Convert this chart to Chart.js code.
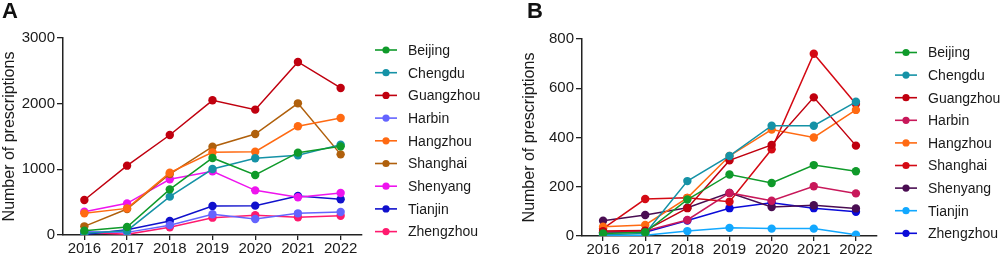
<!DOCTYPE html>
<html>
<head>
<meta charset="utf-8">
<script src="https://cdn.jsdelivr.net/npm/chart.js@4/dist/chart.umd.min.js"></script>
<style>
    html, body { margin: 0; padding: 0; background: #fff; }
    body { width: 1003px; height: 257px; position: relative; overflow: hidden; font-family: "Liberation Sans", Arial, sans-serif; }
    .painel { position: absolute; top: 0; height: 257px; }
    .letra { position: absolute; top: -2px; font-weight: bold; font-size: 22px; color: #111; }
</style>
</head>
<body>
<div class="painel" style="left:0;width:500px"><canvas id="graficoA" width="500" height="257"></canvas></div>
<div class="painel" style="left:500px;width:503px"><canvas id="graficoB" width="503" height="257"></canvas></div>
<div class="letra" style="left:2px">A</div>
<div class="letra" style="left:527px">B</div>
<script>
const anos = ['2016', '2017', '2018', '2019', '2020', '2021', '2022'];
const cidades = ['Beijing', 'Chengdu', 'Guangzhou', 'Harbin', 'Hangzhou', 'Shanghai', 'Shenyang', 'Tianjin', 'Zhengzhou'];

// Painel A
const coresA = ['#0f9a2a', '#1592a6', '#c0000f', '#6464ff', '#ff6a12', '#b0600c', '#ee14ee', '#1010cc', '#ff1a6e'];
const beijingA   = [66, 122, 695, 1173, 914, 1254, 1350];
const chengduA   = [25, 66, 584, 1005, 1168, 1213, 1376];
const guangzhouA = [533, 1056, 1523, 2051, 1909, 2635, 2239];
const harbinA    = [50, 40, 150, 315, 244, 330, 350];
const hangzhouA  = [330, 405, 949, 1259, 1269, 1655, 1782];
const shanghaiA  = [132, 396, 929, 1345, 1538, 2005, 1228];
const shenyangA  = [355, 482, 848, 970, 680, 574, 640];
const tianjinA   = [8, 81, 213, 442, 447, 594, 543];
const zhengzhouA = [40, 10, 117, 264, 300, 269, 294];
const ticksA = [0, 1000, 2000, 3000];

// Painel B
const coresB = ['#0f9a2a', '#1592a6', '#c0000f', '#c8185a', '#ff6a12', '#d40a14', '#4a0d52', '#12a8ff', '#0a0ad8'];
const beijingB   = [10, 15, 148, 250, 215, 288, 263];
const chengduB   = [5, 10, 223, 325, 448, 448, 545];
const guangzhouB = [20, 22, 113, 307, 370, 563, 367];
const harbinB    = [15, 20, 65, 175, 143, 202, 173];
const hangzhouB  = [38, 45, 155, 325, 432, 400, 512];
const shanghaiB  = [30, 150, 155, 139, 352, 740, 536];
const shenyangB  = [62, 85, 115, 175, 118, 125, 112];
const tianjinB   = [2, 3, 20, 33, 30, 30, 5];
const zhengzhouB = [15, 15, 63, 113, 135, 113, 98];
const ticksB = [0, 200, 400, 600, 800];

const fonte = '"Liberation Sans", Arial, sans-serif';
const corTexto = '#1a1a1a';

// Legenda desenhada à mão (linha com ponto no meio)
const legendaCidades = {
    id: 'legendaCidades',
    afterDraw(chart, args, opts) {
        const ctx = chart.ctx;
        const area = chart.chartArea;
        const x0 = area.right + opts.deslocX;
        ctx.save();
        chart.data.datasets.forEach((ds, i) => {
            const y = opts.topo + i * opts.passo;
            ctx.strokeStyle = ds.borderColor;
            ctx.lineWidth = 1.6;
            ctx.beginPath();
            ctx.moveTo(x0, y);
            ctx.lineTo(x0 + 22, y);
            ctx.stroke();
            ctx.fillStyle = ds.borderColor;
            ctx.beginPath();
            ctx.arc(x0 + 11, y, 3.6, 0, Math.PI * 2);
            ctx.fill();
            ctx.fillStyle = corTexto;
            ctx.font = '14px ' + fonte;
            ctx.textBaseline = 'middle';
            ctx.textAlign = 'left';
            ctx.fillText(ds.label, x0 + 33, y + 1);
        });
        ctx.restore();
    }
};

function montarDatasets(series, cores) {
    return series.map((valores, i) => ({
        label: cidades[i],
        data: valores,
        borderColor: cores[i],
        backgroundColor: cores[i],
        borderWidth: 1.5,
        pointRadius: 4.2,
        pointHoverRadius: 4.2,
        pointBorderWidth: 0,
        tension: 0
    }));
}

function criarGrafico(idCanvas, series, cores, ticks, maximo, p) {
    const ctx = document.getElementById(idCanvas).getContext('2d');
    return new Chart(ctx, {
        type: 'line',
        data: { labels: anos, datasets: montarDatasets(series, cores) },
        options: {
            responsive: false,
            animation: false,
            events: [],
            layout: { padding: { left: p.esquerda, right: p.direita, top: p.topo, bottom: 0 } },
            plugins: {
                legend: { display: false },
                tooltip: { enabled: false },
                legendaCidades: { deslocX: p.legX, topo: p.legTopo, passo: p.legPasso }
            },
            scales: {
                x: {
                    offset: true,
                    grid: { drawOnChartArea: false, drawTicks: true, tickLength: 5, color: '#222', lineWidth: 1.3 },
                    border: { display: true, color: '#222', width: 1.5 },
                    ticks: { color: corTexto, font: { family: fonte, size: 15 }, padding: 0, maxRotation: 0 },
                    afterFit: (scale) => { scale.height = 257 - p.fundo; }
                },
                y: {
                    min: 0,
                    max: maximo,
                    afterBuildTicks: (scale) => { scale.ticks = ticks.map(v => ({ value: v })); },
                    grid: { drawOnChartArea: false, drawTicks: true, tickLength: 6, color: '#222', lineWidth: 1.3 },
                    border: { display: true, color: '#222', width: 1.5 },
                    ticks: {
                        color: corTexto,
                        font: { family: fonte, size: 15 },
                        padding: 2,
                        callback: (valor) => String(valor)
                    },
                    title: {
                        display: true,
                        text: 'Number of prescriptions',
                        color: corTexto,
                        font: { family: fonte, size: 16 },
                        padding: { top: 0, bottom: 0 }
                    },
                    afterFit: (scale) => { scale.width = p.eixoY - p.esquerda; }
                }
            }
        },
        plugins: [legendaCidades]
    });
}

window.graficoA = criarGrafico('graficoA',
    [beijingA, chengduA, guangzhouA, harbinA, hangzhouA, shanghaiA, shenyangA, tianjinA, zhengzhouA],
    coresA, ticksA, 3000,
    { esquerda: 0, eixoY: 63, direita: 500 - 362, topo: 38, fundo: 235, legX: 13, legTopo: 50, legPasso: 22.7 });

window.graficoB = criarGrafico('graficoB',
    [beijingB, chengduB, guangzhouB, harbinB, hangzhouB, shanghaiB, shenyangB, tianjinB, zhengzhouB],
    coresB, ticksB, 800,
    { esquerda: 20, eixoY: 82, direita: 503 - 377, topo: 39, fundo: 236, legX: 18, legTopo: 52.5, legPasso: 22.6 });
</script>
</body>
</html>
